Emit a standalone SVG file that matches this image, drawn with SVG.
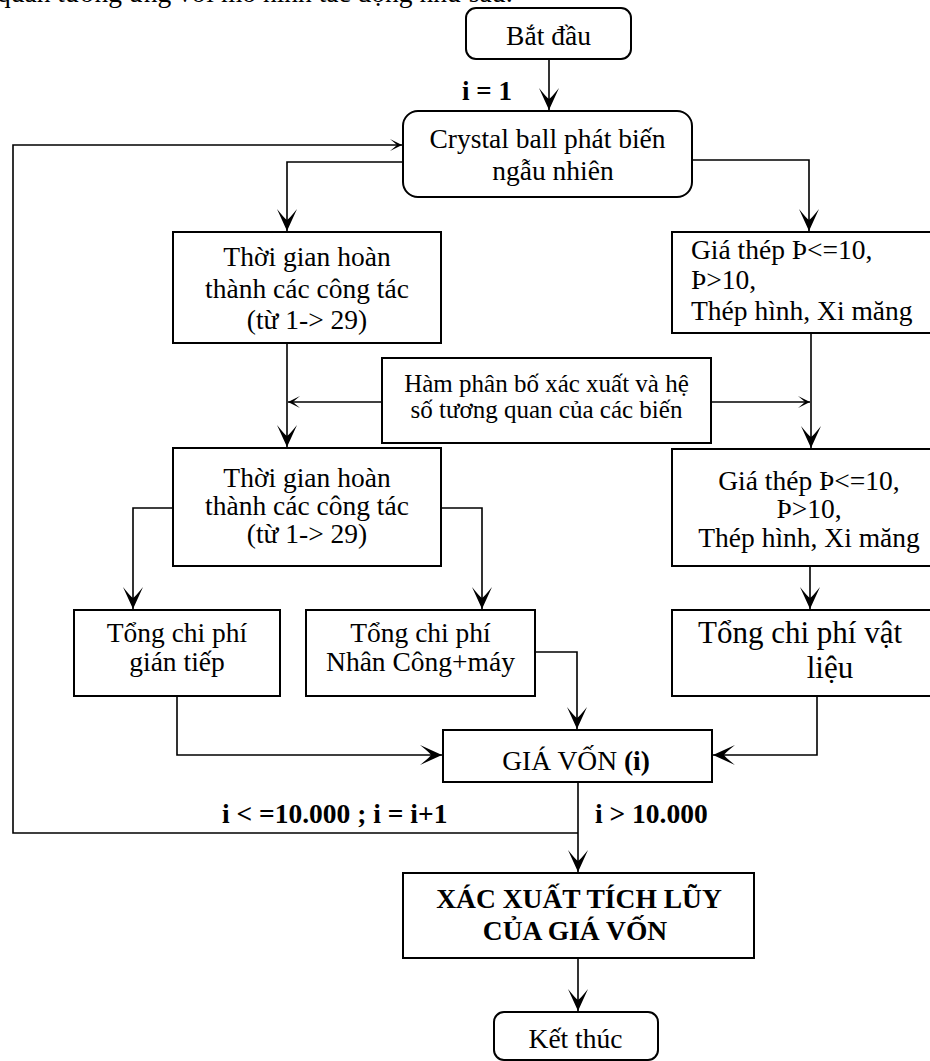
<svg xmlns="http://www.w3.org/2000/svg" width="930" height="1061" viewBox="0 0 930 1061">
<style>
.bx{fill:#fff;stroke:#000;stroke-width:2}
.ln{fill:none;stroke:#000;stroke-width:1.6}
text{font-family:"Liberation Serif","DejaVu Serif",serif;font-size:27.5px;fill:#000}
.c{text-anchor:middle}
.b{font-weight:bold}
</style>
<defs>
<marker id="ah" markerUnits="userSpaceOnUse" viewBox="-24 -12 26 24" refX="0" refY="0" markerWidth="26" markerHeight="24" orient="auto" overflow="visible">
<path d="M0,0 L-22,-10 Q-12,-2 -11,0 Q-12,2 -22,10 Z" fill="#000"/>
</marker>
<marker id="sa" markerUnits="userSpaceOnUse" viewBox="-14 -8 16 16" refX="0" refY="0" markerWidth="16" markerHeight="16" orient="auto" overflow="visible">
<path d="M0,0 L-12,-6 Q-6,-1 -5,0 Q-6,1 -12,6 Z" fill="#000"/>
</marker>
</defs>
<rect width="930" height="1061" fill="#fff"/>
<text x="-3" y="2">quan tương ứng với mô hình tác động như sau:</text>

<g id="connectors">
<path class="ln" d="M549,59 V110" marker-end="url(#ah)"/>
<path class="ln" d="M403,162 H287 V231" marker-end="url(#ah)"/>
<path class="ln" d="M692,160 H809 V231" marker-end="url(#ah)"/>
<path class="ln" d="M287,343 V447" marker-end="url(#ah)"/>
<path class="ln" d="M811,333 V448" marker-end="url(#ah)"/>
<path class="ln" d="M382,402 H288" marker-end="url(#sa)"/>
<path class="ln" d="M711,402 H810" marker-end="url(#sa)"/>
<path class="ln" d="M173,508 H133 V609" marker-end="url(#ah)"/>
<path class="ln" d="M441,508 H482 V609" marker-end="url(#ah)"/>
<path class="ln" d="M810,566 V609" marker-end="url(#ah)"/>
<path class="ln" d="M535,652 H577 V729" marker-end="url(#ah)"/>
<path class="ln" d="M177,696 V755 H442" marker-end="url(#ah)"/>
<path class="ln" d="M817,696 V755 H713" marker-end="url(#ah)"/>
<path class="ln" d="M578,782 V872" marker-end="url(#ah)"/>
<path class="ln" d="M578,833 H13 V145 H402" marker-end="url(#sa)"/>
<path class="ln" d="M578,958 V1011" marker-end="url(#ah)"/>
</g>

<g id="start">
<rect class="bx" x="466" y="8" width="165" height="51" rx="10"/>
<text class="c" x="548.5" y="45">Bắt đầu</text>
</g>
<text class="b" x="462" y="100" style="font-size:27px">i = 1</text>

<g id="crystal">
<rect class="bx" x="403" y="111" width="289" height="86" rx="15"/>
<text class="c" x="547.5" y="148">Crystal ball phát biến</text>
<text class="c" x="553" y="180">ngẫu nhiên</text>
</g>

<g id="time1">
<rect class="bx" x="173" y="232" width="268" height="111"/>
<text class="c" x="307" y="266">Thời gian hoàn</text>
<text class="c" x="307" y="298">thành các công tác</text>
<text class="c" x="307" y="329">(từ 1-&gt; 29)</text>
</g>

<g id="steel1">
<rect class="bx" x="672" y="232" width="275" height="101"/>
<text x="691" y="259">Giá thép Þ&lt;=10,</text>
<text x="691" y="289">Þ&gt;10,</text>
<text x="691" y="320">Thép hình, Xi măng</text>
</g>

<g id="dist">
<rect class="bx" x="382" y="358" width="329" height="85"/>
<text class="c" x="546.5" y="392" style="font-size:25px">Hàm phân bố xác xuất và hệ</text>
<text class="c" x="546.5" y="418" style="font-size:25px">số tương quan của các biến</text>
</g>

<g id="time2">
<rect class="bx" x="173" y="448" width="268" height="118"/>
<text class="c" x="307" y="487">Thời gian hoàn</text>
<text class="c" x="307" y="515">thành các công tác</text>
<text class="c" x="307" y="543">(từ 1-&gt; 29)</text>
</g>

<g id="steel2">
<rect class="bx" x="672" y="449" width="275" height="117"/>
<text class="c" x="809" y="490">Giá thép Þ&lt;=10,</text>
<text class="c" x="809" y="518">Þ&gt;10,</text>
<text class="c" x="809" y="547">Thép hình, Xi măng</text>
</g>

<g id="indirect">
<rect class="bx" x="74" y="610" width="206" height="86"/>
<text class="c" x="177" y="642">Tổng chi phí</text>
<text class="c" x="177" y="671">gián tiếp</text>
</g>

<g id="labor">
<rect class="bx" x="306" y="610" width="229" height="86"/>
<text class="c" x="420.5" y="642">Tổng chi phí</text>
<text class="c" x="420.5" y="671">Nhân Công+máy</text>
</g>

<g id="material">
<rect class="bx" x="672" y="610" width="275" height="86"/>
<text class="c" x="800" y="643" style="font-size:31px">Tổng chi phí vật</text>
<text class="c" x="830" y="678" style="font-size:31px">liệu</text>
</g>

<g id="cost">
<rect class="bx" x="443" y="730" width="269" height="52"/>
<text class="c" x="576" y="770">GIÁ VỐN <tspan class="b">(i)</tspan></text>
</g>

<text class="b" x="222" y="823">i &lt; =10.000 ; i = i+1</text>
<text class="b" x="595" y="823">i &gt; 10.000</text>

<g id="prob">
<rect class="bx" x="403" y="873" width="351" height="85"/>
<text class="c b" x="579" y="908">XÁC XUẤT TÍCH LŨY</text>
<text class="c b" x="575" y="940">CỦA GIÁ VỐN</text>
</g>

<g id="end">
<rect class="bx" x="494" y="1012" width="164" height="48" rx="10"/>
<text class="c" x="575.5" y="1048">Kết thúc</text>
</g>
</svg>
